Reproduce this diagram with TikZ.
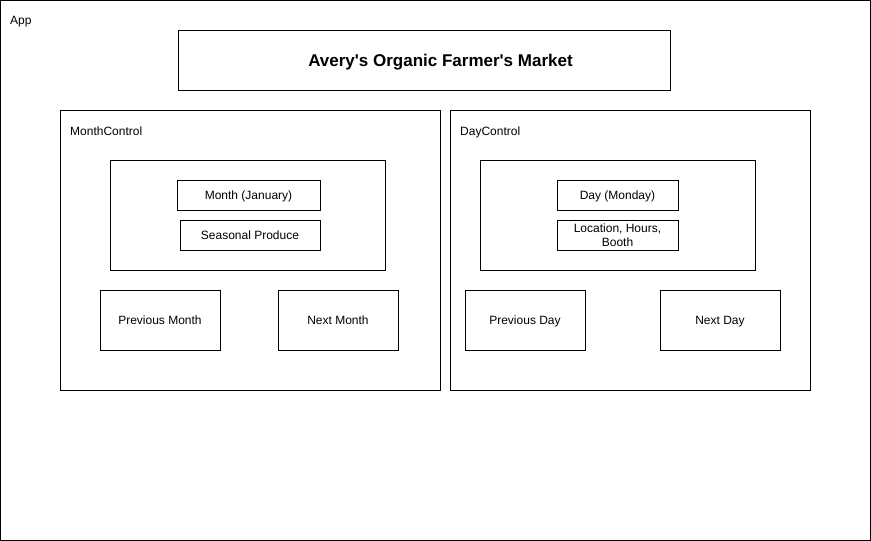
\documentclass[tikz,border=0pt]{standalone}
\usepackage{fontspec}
\setmainfont{Liberation Sans}[Ligatures=TeXOff]
\begin{document}
\begin{tikzpicture}[x=1pt,y=-1pt,
  box/.style={draw=black,line width=1pt,fill=white,inner sep=0pt,align=center,font=\fontsize{12}{14}\selectfont},
  one/.style={text height=10.6pt,text depth=2.5pt},
  lbl/.style={anchor=base west,inner sep=0pt,font=\fontsize{12}{14}\selectfont}]
\useasboundingbox (0,0) rectangle (871,541);
\newcommand{\boxnode}[6][]{\node[box,#1,minimum width={#4-#2},minimum height={#5-#3}] (#6) at ({(#2+#4)/2},{(#3+#5)/2})}
\boxnode{0.5}{0.5}{870.5}{540.5}{app} {};
\node[lbl] (applbl) at (10,24.5) {App};
\boxnode{178}{30}{670}{90}{title} {};
\node[inner sep=0pt,text height=12.5pt,text depth=0pt,font=\fontsize{17}{20}\selectfont\bfseries] (titletext) at (440.5,60) {Avery's Organic Farmer's Market};
% Month control
\boxnode{60}{110}{440}{390}{mc} {};
\node[lbl] (mclbl) at (70,135.5) {MonthControl};
\boxnode{110}{160}{385}{270}{mcin} {};
\boxnode[one]{177}{180}{320}{210}{month} {Month (January)};
\boxnode[one]{180}{220}{320}{250}{produce} {Seasonal Produce};
\boxnode[one]{100}{290}{220}{350}{prevm} {Previous Month};
\boxnode[one]{278}{290}{398}{350}{nextm} {Next Month};
% Day control
\boxnode{450}{110}{810}{390}{dc} {};
\node[lbl] (dclbl) at (460,135.5) {DayControl};
\boxnode{480}{160}{755}{270}{dcin} {};
\boxnode[one]{557}{180}{678}{210}{day} {Day (Monday)};
\boxnode{557}{220}{678}{250}{loc} {Location, Hours,\\Booth};
\boxnode[one]{465}{290}{585}{350}{prevd} {Previous Day};
\boxnode[one]{660}{290}{780}{350}{nextd} {Next Day};
\end{tikzpicture}
\end{document}
